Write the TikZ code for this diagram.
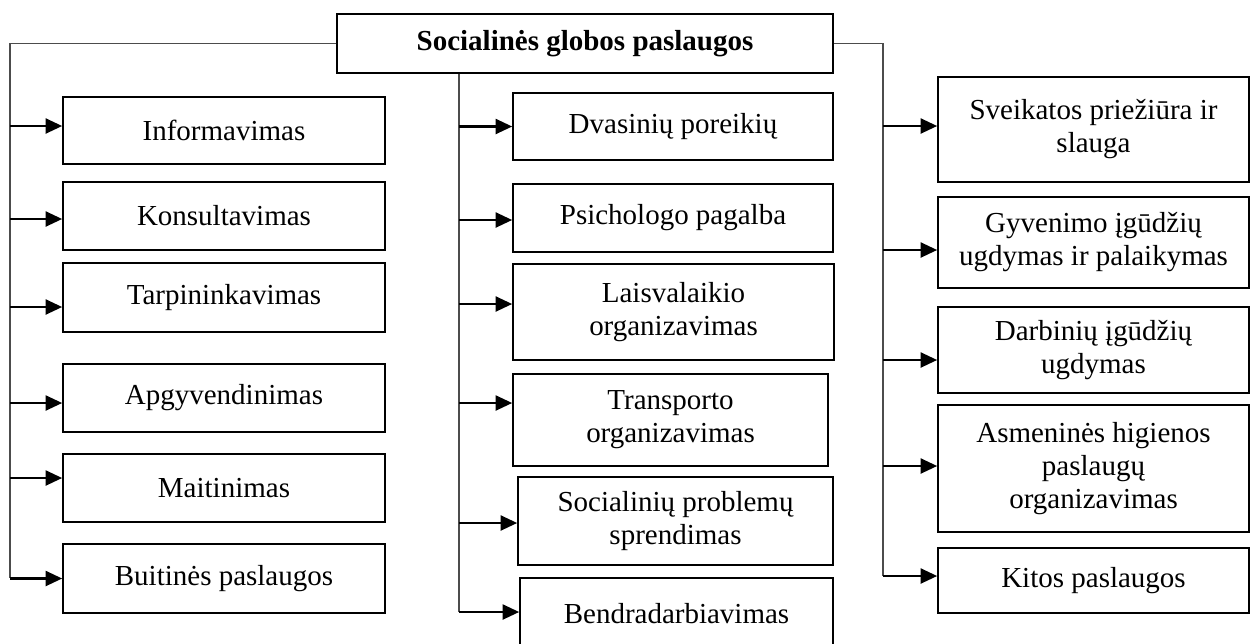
\documentclass[tikz,border=0pt]{standalone}
\usepackage{fontspec}
\setmainfont{Liberation Serif}
\usetikzlibrary{arrows.meta}
\begin{document}
\begin{tikzpicture}[x=0.02cm,y=-0.02cm,
  box/.style={draw=black, line width=1pt, rectangle, align=center, inner sep=2pt,
    font=\fontsize{16.5}{18.8}\selectfont},
  conn/.style={draw=black!70, line width=0.7pt},
  arr/.style={draw=black, line width=1.2pt, -{Triangle[length=0.33cm,width=0.3cm]}}]
\useasboundingbox (0,0) rectangle (1250,643);
% top
\node[box, minimum width=9.92cm, minimum height=1.18cm, font=\fontsize{16.5}{18.8}\selectfont\bfseries] (top) at (585,43.5) {Socialinės globos paslaugos};
% left column
\node[box, minimum width=6.44cm, minimum height=1.34cm] (inf) at (224,130.5) {Informavimas};
\node[box, minimum width=6.44cm, minimum height=1.36cm] (kon) at (224,216) {Konsultavimas};
\node[box, minimum width=6.44cm, minimum height=1.38cm] (tar) at (224,297.5) {Tarpininkavimas};
\node[box, minimum width=6.44cm, minimum height=1.36cm] (apg) at (224,398) {Apgyvendinimas};
\node[box, minimum width=6.44cm, minimum height=1.36cm] (mai) at (224,488) {Maitinimas};
\node[box, minimum width=6.44cm, minimum height=1.38cm] (bui) at (224,578.5) {Buitinės paslaugos};
% middle column
\node[box, minimum width=6.40cm, minimum height=1.34cm] (dva) at (673,126.5) {Dvasinių poreikių};
\node[box, minimum width=6.40cm, minimum height=1.36cm] (psi) at (673,218) {Psichologo pagalba};
\node[box, minimum width=6.42cm, minimum height=1.92cm] (lai) at (673.5,312) {Laisvalaikio\\organizavimas};
\node[box, minimum width=6.30cm, minimum height=1.84cm] (tra) at (670.5,420) {Transporto\\organizavimas};
\node[box, minimum width=6.30cm, minimum height=1.76cm] (soc) at (675.5,521) {Socialinių problemų\\sprendimas};
\node[box, minimum width=6.26cm, minimum height=1.44cm] (ben) at (676.5,614) {Bendradarbiavimas};
% right column
\node[box, minimum width=6.22cm, minimum height=2.10cm] (sve) at (1093.5,129.5) {Sveikatos priežiūra ir\\slauga};
\node[box, minimum width=6.22cm, minimum height=1.82cm] (gyv) at (1093.5,242.5) {Gyvenimo įgūdžių\\ugdymas ir palaikymas};
\node[box, minimum width=6.22cm, minimum height=1.72cm] (dar) at (1093.5,350) {Darbinių įgūdžių\\ugdymas};
\node[box, minimum width=6.22cm, minimum height=2.54cm] (asm) at (1093.5,468.5) {Asmeninės higienos\\paslaugų\\organizavimas};
\node[box, minimum width=6.22cm, minimum height=1.30cm] (kit) at (1093.5,580.5) {Kitos paslaugos};
% trunk coordinates
\coordinate (L) at (10,578);
\coordinate (M) at (459,612);
\coordinate (R) at (883,576);
% trunks
\draw[conn] (top.west) -| (L);
\draw[conn] (M |- top.south) -- (M);
\draw[conn] (top.east) -| (R);
% left arrows
\draw[arr] ([yshift=0.09cm]L |- inf.west) -- ([yshift=0.09cm]inf.west);
\draw[arr] ([yshift=-0.06cm]L |- kon.west) -- ([yshift=-0.06cm]kon.west);
\draw[arr] ([yshift=-0.19cm]L |- tar.west) -- ([yshift=-0.19cm]tar.west);
\draw[arr] ([yshift=-0.10cm]L |- apg.west) -- ([yshift=-0.10cm]apg.west);
\draw[arr] ([yshift=0.20cm]L |- mai.west) -- ([yshift=0.20cm]mai.west);
\draw[arr] (L |- bui.west) -- (bui.west);
% middle arrows
\draw[arr] (M |- dva.west) -- (dva.west);
\draw[arr] ([yshift=-0.04cm]M |- psi.west) -- ([yshift=-0.04cm]psi.west);
\draw[arr] ([yshift=0.16cm]M |- lai.west) -- ([yshift=0.16cm]lai.west);
\draw[arr] ([yshift=0.34cm]M |- tra.west) -- ([yshift=0.34cm]tra.west);
\draw[arr] ([yshift=-0.04cm]M |- soc.west) -- ([yshift=-0.04cm]soc.west);
\draw[arr] ([yshift=0.04cm]M |- ben.west) -- ([yshift=0.04cm]ben.west);
% right arrows
\draw[arr] ([yshift=0.07cm]R |- sve.west) -- ([yshift=0.07cm]sve.west);
\draw[arr] ([yshift=-0.15cm]R |- gyv.west) -- ([yshift=-0.15cm]gyv.west);
\draw[arr] ([yshift=-0.20cm]R |- dar.west) -- ([yshift=-0.20cm]dar.west);
\draw[arr] ([yshift=0.05cm]R |- asm.west) -- ([yshift=0.05cm]asm.west);
\draw[arr] ([yshift=0.09cm]R |- kit.west) -- ([yshift=0.09cm]kit.west);
\end{tikzpicture}
\end{document}
